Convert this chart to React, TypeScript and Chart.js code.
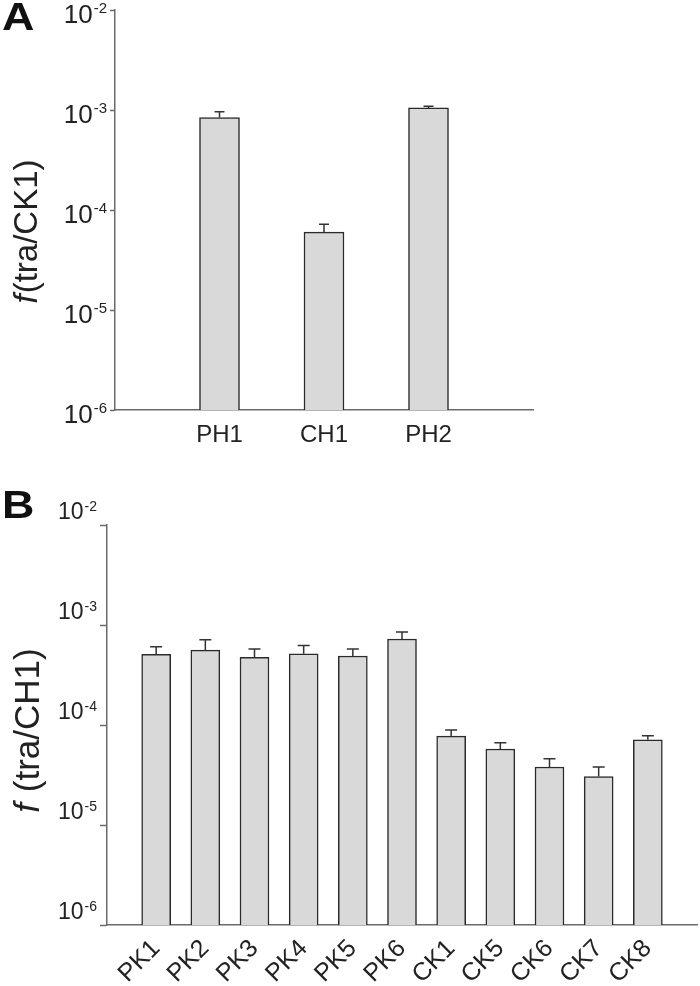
import React, { useEffect, useRef } from 'react';
import { Chart, registerables } from 'chart.js';

Chart.register(...registerables);

// ---------- data ----------
const categoriesA = ['PH1', 'CH1', 'PH2'];
const valuesA = [8.4e-4, 6.0e-5, 1.05e-3];
const errorsA = [1.2e-4, 1.2e-5, 0.4e-4];

const categoriesB = ['PK1', 'PK2', 'PK3', 'PK4', 'PK5', 'PK6', 'CK1', 'CK5', 'CK6', 'CK7', 'CK8'];
const valuesB = [5.1e-4, 5.6e-4, 4.75e-4, 5.15e-4, 4.9e-4, 7.25e-4, 7.75e-5, 5.75e-5, 3.8e-5, 3.05e-5, 7.1e-5];
const errorsB = [0.95e-4, 1.5e-4, 1.0e-4, 1.1e-4, 0.85e-4, 1.25e-4, 1.15e-5, 0.9e-5, 0.8e-5, 0.75e-5, 0.7e-5];

const yTickValues = [1e-6, 1e-5, 1e-4, 1e-3, 1e-2];
const yTickBase = '10';
const yTickExponents = ['-6', '-5', '-4', '-3', '-2'];

const titleA = { italic: 'f', rest: '(tra/CK1)' };
const titleB = { italic: 'f', rest: ' (tra/CH1)' };

// ---------- style ----------
const FONT = "'Liberation Sans', Arial, Helvetica, sans-serif";
const AXIS = '#6a6a6a';
const TEXT = '#222222';
const BAR_FILL = '#d9d9d9';
const BAR_EDGE = '#2b2b2b';

const errorBarPlugin = {
  id: 'errorBars',
  afterDatasetsDraw(chart: any, _args: any, opts: any) {
    const { ctx } = chart;
    const meta = chart.getDatasetMeta(0);
    const data = chart.data.datasets[0].data;
    const yScale = chart.scales.y;
    ctx.save();
    ctx.strokeStyle = opts.color;
    ctx.lineWidth = opts.lineWidth;
    meta.data.forEach((bar: any, i: number) => {
      const v = data[i];
      const e = opts.errors[i];
      if (v == null || e == null) return;
      const x = bar.x;
      const y0 = bar.y;
      const y1 = yScale.getPixelForValue(v + e);
      ctx.beginPath();
      ctx.moveTo(x, y0);
      ctx.lineTo(x, y1);
      ctx.moveTo(x - opts.cap / 2, y1);
      ctx.lineTo(x + opts.cap / 2, y1);
      ctx.stroke();
    });
    ctx.restore();
  },
};

const axisTitlePlugin = {
  id: 'axisTitle',
  afterDraw(chart: any, _args: any, opts: any) {
    const { ctx } = chart;
    ctx.save();
    ctx.translate(opts.x, opts.y);
    ctx.rotate(-Math.PI / 2);
    ctx.fillStyle = TEXT;
    ctx.textBaseline = 'middle';
    ctx.textAlign = 'left';
    const italic = `italic ${opts.size}px ${FONT}`;
    const normal = `${opts.size}px ${FONT}`;
    ctx.font = italic;
    const w1 = ctx.measureText(opts.italic).width;
    ctx.font = normal;
    const w2 = ctx.measureText(opts.rest).width;
    const x0 = -(w1 + w2) / 2;
    ctx.font = italic;
    ctx.fillText(opts.italic, x0, 0);
    ctx.font = normal;
    ctx.fillText(opts.rest, x0 + w1 + 1, 0);
    ctx.restore();
  },
};

// power-of-ten labels with a real superscript exponent, placed at the y scale's ticks
const powerLabelPlugin = {
  id: 'powerLabels',
  afterDraw(chart: any, _args: any, opts: any) {
    const { ctx } = chart;
    const scale = chart.scales.y;
    const right = scale.right - opts.tickLength - opts.padding;
    ctx.save();
    ctx.fillStyle = TEXT;
    ctx.textBaseline = 'alphabetic';
    ctx.textAlign = 'left';
    scale.ticks.forEach((t: any) => {
      const i = yTickValues.findIndex((v) => Math.abs(Math.log10(v) - Math.log10(t.value)) < 1e-6);
      if (i < 0) return;
      const py = scale.getPixelForValue(t.value) + opts.offset;
      const exp = yTickExponents[i];
      ctx.font = `${opts.supSize}px ${FONT}`;
      const wExp = ctx.measureText(exp).width;
      ctx.font = `${opts.size}px ${FONT}`;
      const wBase = ctx.measureText(yTickBase).width;
      const baseY = py + 0.358 * opts.size;
      const topY = py - 0.358 * opts.size;
      const xBase = right - wExp - wBase - 1;
      ctx.fillText(yTickBase, xBase, baseY);
      ctx.font = `${opts.supSize}px ${FONT}`;
      ctx.fillText(exp, xBase + wBase + 1, topY - 2 + 0.716 * opts.supSize);
    });
    ctx.restore();
  },
};

function makeConfig(p: {
  categories: string[];
  values: number[];
  errors: number[];
  barThickness: number;
  cap: number;
  padding: any;
  yWidth: number;
  xHeight: number;
  tickLength: number;
  labelOffset: number;
  labelSize: number;
  supSize: number;
  rotation: number;
  xPadding: number;
  xFont: number;
  title: { italic: string; rest: string };
  titleX: number;
  titleY: number;
  titleSize: number;
}) {
  return {
    type: 'bar',
    data: {
      labels: ['', ...p.categories, ''],
      datasets: [
        {
          data: [null, ...p.values, null],
          backgroundColor: BAR_FILL,
          borderColor: BAR_EDGE,
          borderWidth: 1.5,
          barThickness: p.barThickness,
        },
      ],
    },
    options: {
      responsive: false,
      animation: false,
      events: [],
      layout: { padding: p.padding },
      plugins: {
        legend: { display: false },
        tooltip: { enabled: false },
        errorBars: { errors: [null, ...p.errors, null], cap: p.cap, color: '#333333', lineWidth: 1.5 },
        axisTitle: { ...p.title, x: p.titleX, y: p.titleY, size: p.titleSize },
        powerLabels: {
          tickLength: p.tickLength,
          padding: 3,
          offset: p.labelOffset,
          size: p.labelSize,
          supSize: p.supSize,
        },
      },
      scales: {
        x: {
          type: 'category',
          offset: false,
          grid: { display: false, drawTicks: false },
          border: { display: true, color: AXIS, width: 1.5 },
          ticks: {
            font: { family: FONT, size: p.xFont },
            color: TEXT,
            padding: p.xPadding,
            autoSkip: false,
            maxRotation: p.rotation,
            minRotation: p.rotation,
          },
          afterFit: (s: any) => {
            s.height = p.xHeight;
            s.paddingLeft = 0;
            s.paddingRight = 0;
          },
        },
        y: {
          type: 'logarithmic',
          min: yTickValues[0],
          max: yTickValues[yTickValues.length - 1],
          grid: { drawOnChartArea: false, drawTicks: true, tickLength: p.tickLength, tickColor: AXIS, tickWidth: 1.5 },
          border: { display: true, color: AXIS, width: 1.5 },
          ticks: { display: false },
          afterBuildTicks: (s: any) => {
            s.ticks = yTickValues.map((v) => ({ value: v }));
          },
          afterFit: (s: any) => {
            s.width = p.yWidth;
            s.paddingTop = 0;
            s.paddingBottom = 0;
          },
        },
      },
    },
    plugins: [errorBarPlugin, axisTitlePlugin, powerLabelPlugin],
  } as any;
}

export default function App() {
  const refA = useRef<HTMLCanvasElement>(null);
  const refB = useRef<HTMLCanvasElement>(null);

  useEffect(() => {
    const chartA = new Chart(
      refA.current as HTMLCanvasElement,
      makeConfig({
        categories: categoriesA,
        values: valuesA,
        errors: errorsA,
        barThickness: 40,
        cap: 10,
        padding: { left: 0, top: 10, right: 167, bottom: 0 },
        yWidth: 115,
        xHeight: 60,
        tickLength: 5,
        labelOffset: 4,
        labelSize: 26,
        supSize: 15,
        rotation: 0,
        xPadding: 11,
        xFont: 24,
        title: titleA,
        titleX: 28,
        titleY: 232,
        titleSize: 33,
      })
    );
    const chartB = new Chart(
      refB.current as HTMLCanvasElement,
      makeConfig({
        categories: categoriesB,
        values: valuesB,
        errors: errorsB,
        barThickness: 29,
        cap: 12,
        padding: { left: 0, top: 45, right: 3, bottom: 0 },
        yWidth: 107,
        xHeight: 61,
        tickLength: 7,
        labelOffset: -14,
        labelSize: 23,
        supSize: 14,
        rotation: 45,
        xPadding: 9,
        xFont: 25,
        title: titleB,
        titleX: 29,
        titleY: 251,
        titleSize: 35,
      })
    );
    return () => {
      chartA.destroy();
      chartB.destroy();
    };
  }, []);

  const letter: React.CSSProperties = {
    position: 'absolute',
    left: 2,
    fontFamily: FONT,
    fontWeight: 'bold',
    fontSize: 38,
    lineHeight: '38px',
    color: '#111',
    transform: 'scaleX(1.18)',
    transformOrigin: 'left top',
  };

  return (
    <div style={{ position: 'absolute', left: 0, top: 0, width: 700, height: 986, background: '#fff', overflow: 'hidden' }}>
      <canvas ref={refA} width={700} height={470} style={{ position: 'absolute', left: 0, top: 0, display: 'block' }} />
      <canvas ref={refB} width={700} height={506} style={{ position: 'absolute', left: 0, top: 480, display: 'block' }} />
      <div style={{ ...letter, top: -2 }}>A</div>
      <div style={{ ...letter, top: 486 }}>B</div>
    </div>
  );
}
